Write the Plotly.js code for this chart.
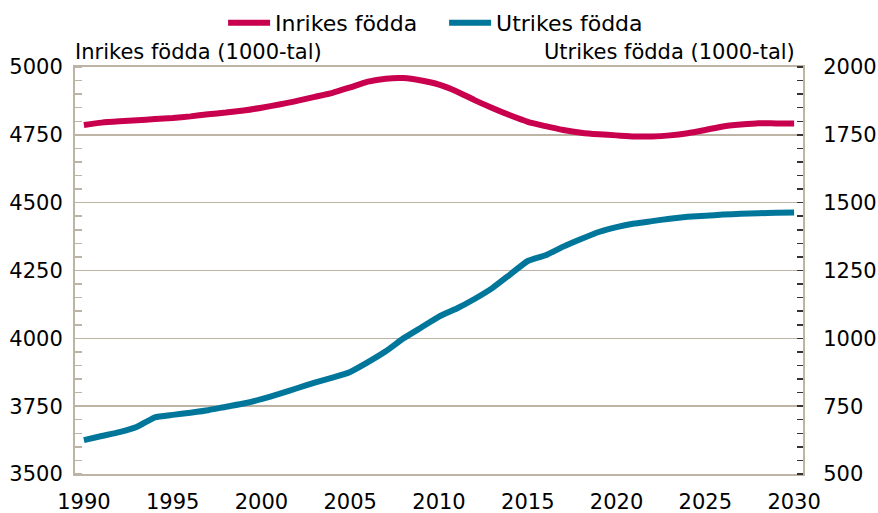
<!DOCTYPE html>
<html>
<head>
<meta charset="utf-8">
<script src="https://cdn.plot.ly/plotly-3.0.1.min.js"></script>
<style>html,body{margin:0;padding:0;background:#fff;}#chart{width:878px;height:513px;}</style>
</head>
<body>
<div id="chart"></div>
<script>
const years = [1990,1991,1992,1993,1994,1995,1996,1997,1998,1999,
  2000,2001,2002,2003,2004,2005,2006,2007,2008,2009,
  2010,2011,2012,2013,2014,2015,2016,2017,2018,2019,
  2020,2021,2022,2023,2024,2025,2026,2027,2028,2029,2030];
const inrikes = [4786,4795,4800,4804,4808,4812,4818,4826,4832,4840,
  4850,4862,4875,4890,4905,4925,4946,4957,4959,4950,
  4935,4910,4878,4849,4822,4798,4782,4768,4758,4752,
  4748,4744,4744,4748,4756,4768,4781,4788,4793,4792,4792];
const utrikes = [625,640,654,674,709,718,726,735,748,760,
  776,795,816,837,855,876,912,952,1000,1040,
  1080,1110,1145,1185,1235,1285,1306,1338,1366,1392,
  1410,1423,1432,1441,1448,1452,1456,1459,1461,1463,1464];
const xTicks = [1990,1995,2000,2005,2010,2015,2020,2025,2030];
const leftTicks = [3500,3750,4000,4250,4500,4750,5000];
const rightTicks = [500,750,1000,1250,1500,1750,2000];
const seriesNames = ['Inrikes födda','Utrikes födda'];
const leftTitle = 'Inrikes födda (1000-tal)';
const rightTitle = 'Utrikes födda (1000-tal)';

const FONT = 'DejaVu Sans';
const TAN = '#bdb4a6';

const traces = [
  {x: years, y: inrikes, name: seriesNames[0], type: 'scatter', mode: 'lines',
   line: {color: '#c8004e', width: 6, shape: 'spline', smoothing: 0.6}, yaxis: 'y'},
  {x: years, y: utrikes, name: seriesNames[1], type: 'scatter', mode: 'lines',
   line: {color: '#00769a', width: 6, shape: 'spline', smoothing: 0.4}, yaxis: 'y2'}
];

const layout = {
  width: 878, height: 513,
  margin: {l: 75, r: 75, t: 67, b: 39, pad: 0, autoexpand: false},
  paper_bgcolor: '#fff', plot_bgcolor: '#fff',
  font: {family: FONT, size: 21, color: '#000'},
  showlegend: true,
  legend: {orientation: 'h', x: 0.507, xanchor: 'center', y: 1.108, yanchor: 'middle',
    font: {family: FONT, size: 22, color: '#000'}, bgcolor: 'rgba(0,0,0,0)',
    itemwidth: 42, entrywidth: 164, entrywidthmode: 'pixels'},
  xaxis: {range: [1989.5, 2030.5], tickmode: 'array', tickvals: xTicks, ticktext: xTicks.map(String),
    showgrid: false, zeroline: false, showline: true, mirror: true, linecolor: TAN, linewidth: 2,
    ticks: '', ticklabelstandoff: 8, automargin: false, tickfont: {family: FONT, size: 21, color: '#000'}},
  yaxis: {range: [3500, 5000], tickmode: 'array', tickvals: leftTicks, ticktext: leftTicks.map(String),
    showgrid: true, gridcolor: TAN, gridwidth: 1.5, zeroline: false, automargin: false,
    showline: true, linecolor: TAN, linewidth: 2, ticks: '',
    minor: {dtick: 50, ticks: 'inside', ticklen: 7, tickcolor: TAN, tickwidth: 1.5, showgrid: false},
    ticklabelstandoff: 6, tickfont: {family: FONT, size: 21, color: '#000'}},
  yaxis2: {range: [500, 2000], overlaying: 'y', side: 'right', tickmode: 'array', tickvals: rightTicks,
    ticktext: rightTicks.map(String), showgrid: false, zeroline: false, automargin: false,
    showline: true, linecolor: TAN, linewidth: 2, ticks: '',
    minor: {dtick: 50, ticks: 'inside', ticklen: 6, tickcolor: '#333', tickwidth: 1.5, showgrid: false},
    ticklabelstandoff: 14, tickfont: {family: FONT, size: 21, color: '#000'}},
  annotations: [
    {text: leftTitle, xref: 'paper', yref: 'paper', x: 0, xanchor: 'left', xshift: -2,
     y: 1.036, yanchor: 'middle', showarrow: false, font: {family: FONT, size: 21, color: '#000'}},
    {text: rightTitle, xref: 'paper', yref: 'paper', x: 1, xanchor: 'right', xshift: -6,
     y: 1.036, yanchor: 'middle', showarrow: false, font: {family: FONT, size: 21, color: '#000'}}
  ]
};

Plotly.newPlot('chart', traces, layout, {staticPlot: true, displayModeBar: false});
</script>
</body>
</html>
